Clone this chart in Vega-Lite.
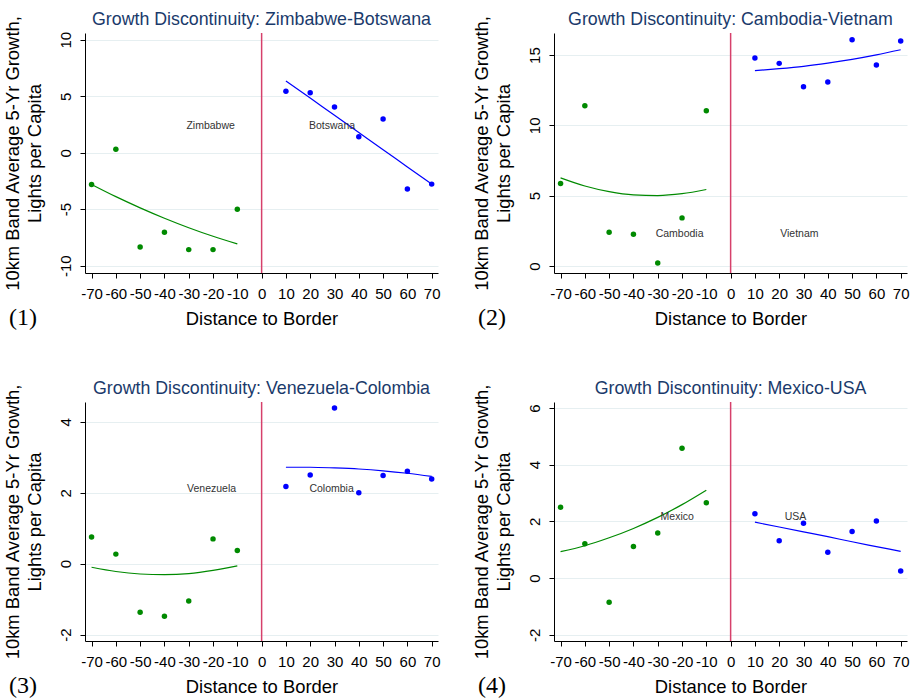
{
  "$schema": "https://vega.github.io/schema/vega-lite/v6.json",
  "padding": {"left": 2, "top": 11, "right": 0, "bottom": 0},
  "background": "white",
  "config": {
    "font": "Liberation Sans",
    "view": {"stroke": null},
    "axis": {"labelFont": "Liberation Sans", "titleFont": "Liberation Sans", "labelFontSize": 15, "titleFontSize": 18.4, "titleFontWeight": "normal", "labelColor": "#000", "titleColor": "#000", "domainColor": "#000", "tickColor": "#000", "tickSize": 5, "gridColor": "#e6eff1", "gridWidth": 1, "labelOverlap": false, "labelExpr": "'' + datum.value"},
    "axisX": {"grid": false, "titlePadding": 8, "labelPadding": 8, "labelFlush": false, "labelOverlap": false},
    "axisY": {"labelAngle": -90, "labelPadding": 7, "titlePadding": 14, "titleLineHeight": 22},
    "title": {"font": "Liberation Sans", "fontSize": 17.8, "fontWeight": "normal", "color": "#1a3a6b", "offset": -14, "frame": "group"},
    "line": {"strokeWidth": 1.2, "interpolate": "monotone"},
    "text": {"fontSize": 10.5, "color": "#333333"}
  },
  "datasets": {
    "pts": [
      {"panel": 1, "bank": "left", "dist": -70, "growth": -2.81},
      {"panel": 1, "bank": "left", "dist": -60, "growth": 0.30},
      {"panel": 1, "bank": "left", "dist": -50, "growth": -8.34},
      {"panel": 1, "bank": "left", "dist": -40, "growth": -7.04},
      {"panel": 1, "bank": "left", "dist": -30, "growth": -8.58},
      {"panel": 1, "bank": "left", "dist": -20, "growth": -8.58},
      {"panel": 1, "bank": "left", "dist": -10, "growth": -5.0},
      {"panel": 1, "bank": "right", "dist": 10, "growth": 5.44},
      {"panel": 1, "bank": "right", "dist": 20, "growth": 5.30},
      {"panel": 1, "bank": "right", "dist": 30, "growth": 4.05},
      {"panel": 1, "bank": "right", "dist": 40, "growth": 1.42},
      {"panel": 1, "bank": "right", "dist": 50, "growth": 2.99},
      {"panel": 1, "bank": "right", "dist": 60, "growth": -3.22},
      {"panel": 1, "bank": "right", "dist": 70, "growth": -2.78},
      {"panel": 2, "bank": "left", "dist": -70, "growth": 5.86},
      {"panel": 2, "bank": "left", "dist": -60, "growth": 11.39},
      {"panel": 2, "bank": "left", "dist": -50, "growth": 2.40},
      {"panel": 2, "bank": "left", "dist": -40, "growth": 2.25},
      {"panel": 2, "bank": "left", "dist": -30, "growth": 0.21},
      {"panel": 2, "bank": "left", "dist": -20, "growth": 3.42},
      {"panel": 2, "bank": "left", "dist": -10, "growth": 11.04},
      {"panel": 2, "bank": "right", "dist": 10, "growth": 14.79},
      {"panel": 2, "bank": "right", "dist": 20, "growth": 14.41},
      {"panel": 2, "bank": "right", "dist": 30, "growth": 12.75},
      {"panel": 2, "bank": "right", "dist": 40, "growth": 13.08},
      {"panel": 2, "bank": "right", "dist": 50, "growth": 16.09},
      {"panel": 2, "bank": "right", "dist": 60, "growth": 14.29},
      {"panel": 2, "bank": "right", "dist": 70, "growth": 16.0},
      {"panel": 3, "bank": "left", "dist": -70, "growth": 0.75},
      {"panel": 3, "bank": "left", "dist": -60, "growth": 0.27},
      {"panel": 3, "bank": "left", "dist": -50, "growth": -1.37},
      {"panel": 3, "bank": "left", "dist": -40, "growth": -1.48},
      {"panel": 3, "bank": "left", "dist": -30, "growth": -1.05},
      {"panel": 3, "bank": "left", "dist": -20, "growth": 0.70},
      {"panel": 3, "bank": "left", "dist": -10, "growth": 0.37},
      {"panel": 3, "bank": "right", "dist": 10, "growth": 2.18},
      {"panel": 3, "bank": "right", "dist": 20, "growth": 2.50},
      {"panel": 3, "bank": "right", "dist": 30, "growth": 4.39},
      {"panel": 3, "bank": "right", "dist": 40, "growth": 2.0},
      {"panel": 3, "bank": "right", "dist": 50, "growth": 2.49},
      {"panel": 3, "bank": "right", "dist": 60, "growth": 2.61},
      {"panel": 3, "bank": "right", "dist": 70, "growth": 2.39},
      {"panel": 4, "bank": "left", "dist": -70, "growth": 2.50},
      {"panel": 4, "bank": "left", "dist": -60, "growth": 1.21},
      {"panel": 4, "bank": "left", "dist": -50, "growth": -0.85},
      {"panel": 4, "bank": "left", "dist": -40, "growth": 1.11},
      {"panel": 4, "bank": "left", "dist": -30, "growth": 1.59},
      {"panel": 4, "bank": "left", "dist": -20, "growth": 4.58},
      {"panel": 4, "bank": "left", "dist": -10, "growth": 2.66},
      {"panel": 4, "bank": "right", "dist": 10, "growth": 2.27},
      {"panel": 4, "bank": "right", "dist": 20, "growth": 1.32},
      {"panel": 4, "bank": "right", "dist": 30, "growth": 1.93},
      {"panel": 4, "bank": "right", "dist": 40, "growth": 0.91},
      {"panel": 4, "bank": "right", "dist": 50, "growth": 1.64},
      {"panel": 4, "bank": "right", "dist": 60, "growth": 2.01},
      {"panel": 4, "bank": "right", "dist": 70, "growth": 0.25}
    ],
    "fit": [
      {"panel": 1, "bank": "left", "dist": -70, "growth": -2.81},
      {"panel": 1, "bank": "left", "dist": -60, "growth": -3.89},
      {"panel": 1, "bank": "left", "dist": -50, "growth": -4.88},
      {"panel": 1, "bank": "left", "dist": -40, "growth": -5.80},
      {"panel": 1, "bank": "left", "dist": -30, "growth": -6.64},
      {"panel": 1, "bank": "left", "dist": -20, "growth": -7.40},
      {"panel": 1, "bank": "left", "dist": -10, "growth": -8.08},
      {"panel": 1, "bank": "right", "dist": 10, "growth": 6.36},
      {"panel": 1, "bank": "right", "dist": 20, "growth": 4.84},
      {"panel": 1, "bank": "right", "dist": 30, "growth": 3.31},
      {"panel": 1, "bank": "right", "dist": 40, "growth": 1.79},
      {"panel": 1, "bank": "right", "dist": 50, "growth": 0.27},
      {"panel": 1, "bank": "right", "dist": 60, "growth": -1.26},
      {"panel": 1, "bank": "right", "dist": 70, "growth": -2.78},
      {"panel": 2, "bank": "left", "dist": -70, "growth": 6.27},
      {"panel": 2, "bank": "left", "dist": -60, "growth": 5.69},
      {"panel": 2, "bank": "left", "dist": -50, "growth": 5.29},
      {"panel": 2, "bank": "left", "dist": -40, "growth": 5.06},
      {"panel": 2, "bank": "left", "dist": -30, "growth": 5.01},
      {"panel": 2, "bank": "left", "dist": -20, "growth": 5.14},
      {"panel": 2, "bank": "left", "dist": -10, "growth": 5.44},
      {"panel": 2, "bank": "right", "dist": 10, "growth": 13.89},
      {"panel": 2, "bank": "right", "dist": 20, "growth": 14.03},
      {"panel": 2, "bank": "right", "dist": 30, "growth": 14.20},
      {"panel": 2, "bank": "right", "dist": 40, "growth": 14.43},
      {"panel": 2, "bank": "right", "dist": 50, "growth": 14.70},
      {"panel": 2, "bank": "right", "dist": 60, "growth": 15.02},
      {"panel": 2, "bank": "right", "dist": 70, "growth": 15.38},
      {"panel": 3, "bank": "left", "dist": -70, "growth": -0.10},
      {"panel": 3, "bank": "left", "dist": -60, "growth": -0.22},
      {"panel": 3, "bank": "left", "dist": -50, "growth": -0.29},
      {"panel": 3, "bank": "left", "dist": -40, "growth": -0.31},
      {"panel": 3, "bank": "left", "dist": -30, "growth": -0.28},
      {"panel": 3, "bank": "left", "dist": -20, "growth": -0.19},
      {"panel": 3, "bank": "left", "dist": -10, "growth": -0.06},
      {"panel": 3, "bank": "right", "dist": 10, "growth": 2.72},
      {"panel": 3, "bank": "right", "dist": 20, "growth": 2.72},
      {"panel": 3, "bank": "right", "dist": 30, "growth": 2.70},
      {"panel": 3, "bank": "right", "dist": 40, "growth": 2.67},
      {"panel": 3, "bank": "right", "dist": 50, "growth": 2.62},
      {"panel": 3, "bank": "right", "dist": 60, "growth": 2.55},
      {"panel": 3, "bank": "right", "dist": 70, "growth": 2.46},
      {"panel": 4, "bank": "left", "dist": -70, "growth": 0.93},
      {"panel": 4, "bank": "left", "dist": -60, "growth": 1.14},
      {"panel": 4, "bank": "left", "dist": -50, "growth": 1.42},
      {"panel": 4, "bank": "left", "dist": -40, "growth": 1.75},
      {"panel": 4, "bank": "left", "dist": -30, "growth": 2.14},
      {"panel": 4, "bank": "left", "dist": -20, "growth": 2.59},
      {"panel": 4, "bank": "left", "dist": -10, "growth": 3.10},
      {"panel": 4, "bank": "right", "dist": 10, "growth": 1.97},
      {"panel": 4, "bank": "right", "dist": 20, "growth": 1.80},
      {"panel": 4, "bank": "right", "dist": 30, "growth": 1.63},
      {"panel": 4, "bank": "right", "dist": 40, "growth": 1.46},
      {"panel": 4, "bank": "right", "dist": 50, "growth": 1.28},
      {"panel": 4, "bank": "right", "dist": 60, "growth": 1.11},
      {"panel": 4, "bank": "right", "dist": 70, "growth": 0.94}
    ],
    "lab": [
      {"panel": 1, "name": "Zimbabwe", "dist": -21, "growth": 2.4},
      {"panel": 1, "name": "Botswana", "dist": 29, "growth": 2.4},
      {"panel": 2, "name": "Cambodia", "dist": -21, "growth": 2.25},
      {"panel": 2, "name": "Vietnam", "dist": 28.3, "growth": 2.25},
      {"panel": 3, "name": "Venezuela", "dist": -20.6, "growth": 2.12},
      {"panel": 3, "name": "Colombia", "dist": 28.8, "growth": 2.12},
      {"panel": 4, "name": "Mexico", "dist": -22, "growth": 2.16},
      {"panel": 4, "name": "USA", "dist": 26.7, "growth": 2.16}
    ]
  },
  "spacing": 48,
  "vconcat": [
    {
      "spacing": 30,
      "hconcat": [
        {
          "title": {"text": "(1)", "orient": "bottom", "anchor": "start", "frame": "bounds", "font": "Liberation Serif", "fontSize": 24, "fontWeight": "normal", "color": "#000", "offset": -21, "dx": 6},
          "vconcat": [{
            "title": {"text": "Growth Discontinuity: Zimbabwe-Botswana"},
            "width": 353, "height": 240,
            "layer": [
              {"data": {"values": [{}]}, "mark": {"type": "rule", "color": "#d6406b", "strokeWidth": 1.5}, "encoding": {"x": {"datum": 0, "type": "quantitative", "scale": {"domain": [-72.7, 72.6], "nice": false, "zero": false}, "axis": {"values": [-70, -60, -50, -40, -30, -20, -10, 0, 10, 20, 30, 40, 50, 60, 70], "tickCount": 20, "labelOverlap": false, "title": "Distance to Border"}}}},
              {"data": {"name": "pts"}, "transform": [{"filter": "datum.panel == 1"}], "mark": {"type": "circle", "size": 30, "opacity": 1},
               "encoding": {"x": {"field": "dist", "type": "quantitative", "axis": {"values": [-70, -60, -50, -40, -30, -20, -10, 0, 10, 20, 30, 40, 50, 60, 70], "tickCount": 20, "labelOverlap": false, "title": "Distance to Border"}},
                 "y": {"field": "growth", "type": "quantitative", "scale": {"domain": [-10.65, 10.6], "nice": false, "zero": false}, "axis": {"values": [-10, -5, 0, 5, 10], "title": ["10km Band Average 5-Yr Growth,", "Lights per Capita"]}},
                 "color": {"field": "bank", "type": "nominal", "scale": {"domain": ["left", "right"], "range": ["#008a00", "#0000ff"]}, "legend": null}}},
              {"data": {"name": "fit"}, "transform": [{"filter": "datum.panel == 1"}], "mark": {"type": "line"},
               "encoding": {"x": {"field": "dist", "type": "quantitative"}, "y": {"field": "growth", "type": "quantitative"}, "color": {"field": "bank", "type": "nominal"}}},
              {"data": {"name": "lab"}, "transform": [{"filter": "datum.panel == 1"}], "mark": {"type": "text"},
               "encoding": {"x": {"field": "dist", "type": "quantitative"}, "y": {"field": "growth", "type": "quantitative"}, "text": {"field": "name"}}}
            ]
          }]
        },
        {
          "title": {"text": "(2)", "orient": "bottom", "anchor": "start", "frame": "bounds", "font": "Liberation Serif", "fontSize": 24, "fontWeight": "normal", "color": "#000", "offset": -21, "dx": 6},
          "vconcat": [{
            "title": {"text": "Growth Discontinuity: Cambodia-Vietnam"},
            "width": 353, "height": 240,
            "layer": [
              {"data": {"values": [{}]}, "mark": {"type": "rule", "color": "#d6406b", "strokeWidth": 1.5}, "encoding": {"x": {"datum": 0, "type": "quantitative", "scale": {"domain": [-72.7, 72.6], "nice": false, "zero": false}, "axis": {"values": [-70, -60, -50, -40, -30, -20, -10, 0, 10, 20, 30, 40, 50, 60, 70], "tickCount": 20, "labelOverlap": false, "title": "Distance to Border"}}}},
              {"data": {"name": "pts"}, "transform": [{"filter": "datum.panel == 2"}], "mark": {"type": "circle", "size": 30, "opacity": 1},
               "encoding": {"x": {"field": "dist", "type": "quantitative", "axis": {"values": [-70, -60, -50, -40, -30, -20, -10, 0, 10, 20, 30, 40, 50, 60, 70], "tickCount": 20, "labelOverlap": false, "title": "Distance to Border"}},
                 "y": {"field": "growth", "type": "quantitative", "scale": {"domain": [-0.5, 16.57], "nice": false, "zero": false}, "axis": {"values": [0, 5, 10, 15], "title": ["10km Band Average 5-Yr Growth,", "Lights per Capita"]}},
                 "color": {"field": "bank", "type": "nominal", "scale": {"domain": ["left", "right"], "range": ["#008a00", "#0000ff"]}, "legend": null}}},
              {"data": {"name": "fit"}, "transform": [{"filter": "datum.panel == 2"}], "mark": {"type": "line"},
               "encoding": {"x": {"field": "dist", "type": "quantitative"}, "y": {"field": "growth", "type": "quantitative"}, "color": {"field": "bank", "type": "nominal"}}},
              {"data": {"name": "lab"}, "transform": [{"filter": "datum.panel == 2"}], "mark": {"type": "text"},
               "encoding": {"x": {"field": "dist", "type": "quantitative"}, "y": {"field": "growth", "type": "quantitative"}, "text": {"field": "name"}}}
            ]
          }]
        }
      ]
    },
    {
      "spacing": 30,
      "hconcat": [
        {
          "title": {"text": "(3)", "orient": "bottom", "anchor": "start", "frame": "bounds", "font": "Liberation Serif", "fontSize": 24, "fontWeight": "normal", "color": "#000", "offset": -21, "dx": 6},
          "vconcat": [{
            "title": {"text": "Growth Discontinuity: Venezuela-Colombia"},
            "width": 353, "height": 239,
            "layer": [
              {"data": {"values": [{}]}, "mark": {"type": "rule", "color": "#d6406b", "strokeWidth": 1.5}, "encoding": {"x": {"datum": 0, "type": "quantitative", "scale": {"domain": [-72.7, 72.6], "nice": false, "zero": false}, "axis": {"values": [-70, -60, -50, -40, -30, -20, -10, 0, 10, 20, 30, 40, 50, 60, 70], "tickCount": 20, "labelOverlap": false, "title": "Distance to Border"}}}},
              {"data": {"name": "pts"}, "transform": [{"filter": "datum.panel == 3"}], "mark": {"type": "circle", "size": 30, "opacity": 1},
               "encoding": {"x": {"field": "dist", "type": "quantitative", "axis": {"values": [-70, -60, -50, -40, -30, -20, -10, 0, 10, 20, 30, 40, 50, 60, 70], "tickCount": 20, "labelOverlap": false, "title": "Distance to Border"}},
                 "y": {"field": "growth", "type": "quantitative", "scale": {"domain": [-2.18, 4.56], "nice": false, "zero": false}, "axis": {"values": [-2, 0, 2, 4], "title": ["10km Band Average 5-Yr Growth,", "Lights per Capita"]}},
                 "color": {"field": "bank", "type": "nominal", "scale": {"domain": ["left", "right"], "range": ["#008a00", "#0000ff"]}, "legend": null}}},
              {"data": {"name": "fit"}, "transform": [{"filter": "datum.panel == 3"}], "mark": {"type": "line"},
               "encoding": {"x": {"field": "dist", "type": "quantitative"}, "y": {"field": "growth", "type": "quantitative"}, "color": {"field": "bank", "type": "nominal"}}},
              {"data": {"name": "lab"}, "transform": [{"filter": "datum.panel == 3"}], "mark": {"type": "text"},
               "encoding": {"x": {"field": "dist", "type": "quantitative"}, "y": {"field": "growth", "type": "quantitative"}, "text": {"field": "name"}}}
            ]
          }]
        },
        {
          "title": {"text": "(4)", "orient": "bottom", "anchor": "start", "frame": "bounds", "font": "Liberation Serif", "fontSize": 24, "fontWeight": "normal", "color": "#000", "offset": -21, "dx": 6},
          "vconcat": [{
            "title": {"text": "Growth Discontinuity: Mexico-USA"},
            "width": 353, "height": 239,
            "layer": [
              {"data": {"values": [{}]}, "mark": {"type": "rule", "color": "#d6406b", "strokeWidth": 1.5}, "encoding": {"x": {"datum": 0, "type": "quantitative", "scale": {"domain": [-72.7, 72.6], "nice": false, "zero": false}, "axis": {"values": [-70, -60, -50, -40, -30, -20, -10, 0, 10, 20, 30, 40, 50, 60, 70], "tickCount": 20, "labelOverlap": false, "title": "Distance to Border"}}}},
              {"data": {"name": "pts"}, "transform": [{"filter": "datum.panel == 4"}], "mark": {"type": "circle", "size": 30, "opacity": 1},
               "encoding": {"x": {"field": "dist", "type": "quantitative", "axis": {"values": [-70, -60, -50, -40, -30, -20, -10, 0, 10, 20, 30, 40, 50, 60, 70], "tickCount": 20, "labelOverlap": false, "title": "Distance to Border"}},
                 "y": {"field": "growth", "type": "quantitative", "scale": {"domain": [-2.22, 6.21], "nice": false, "zero": false}, "axis": {"values": [-2, 0, 2, 4, 6], "title": ["10km Band Average 5-Yr Growth,", "Lights per Capita"]}},
                 "color": {"field": "bank", "type": "nominal", "scale": {"domain": ["left", "right"], "range": ["#008a00", "#0000ff"]}, "legend": null}}},
              {"data": {"name": "fit"}, "transform": [{"filter": "datum.panel == 4"}], "mark": {"type": "line"},
               "encoding": {"x": {"field": "dist", "type": "quantitative"}, "y": {"field": "growth", "type": "quantitative"}, "color": {"field": "bank", "type": "nominal"}}},
              {"data": {"name": "lab"}, "transform": [{"filter": "datum.panel == 4"}], "mark": {"type": "text"},
               "encoding": {"x": {"field": "dist", "type": "quantitative"}, "y": {"field": "growth", "type": "quantitative"}, "text": {"field": "name"}}}
            ]
          }]
        }
      ]
    }
  ]
}
